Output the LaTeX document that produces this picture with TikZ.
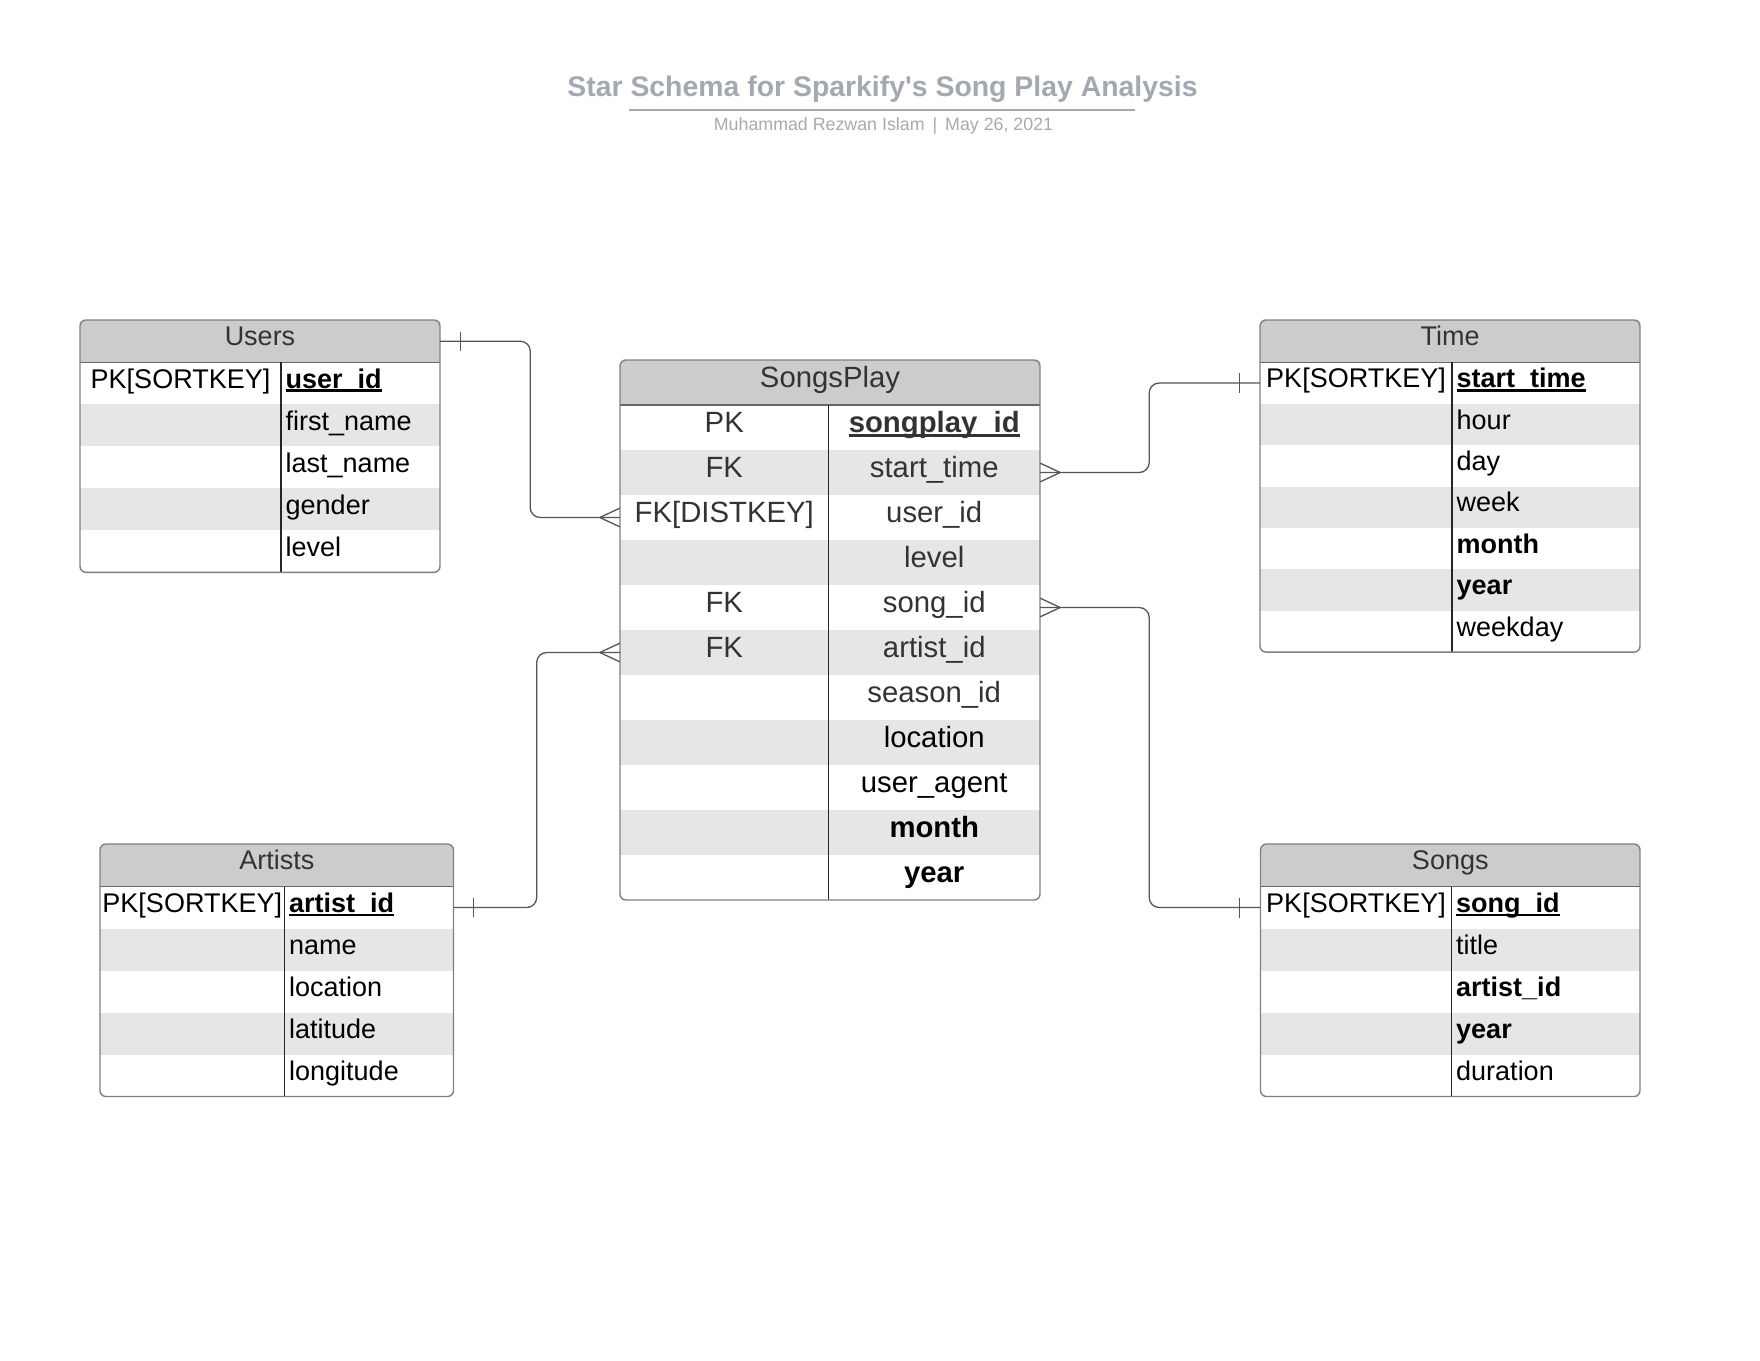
\documentclass[tikz,border=0pt]{standalone}
\usepackage{fontspec}
\setmainfont{Liberation Sans}[Ligatures=TeXOff]
\definecolor{hdrfill}{HTML}{CCCCCC}
\definecolor{stripe}{HTML}{E6E6E6}
\definecolor{framec}{HTML}{808080}
\definecolor{titlegray}{HTML}{A3A8B1}
\definecolor{subgray}{HTML}{A6AAB3}
\definecolor{dk}{HTML}{333333}
\definecolor{connc}{HTML}{555555}
\newcommand{\ulb}[1]{\setbox0\hbox{\textbf{#1}}\rlap{\rule[-0.15em]{\wd0}{0.1em}}\box0}
\newcommand{\tframe}[8]{%
  \begin{scope}
    \clip[rounded corners=6pt] (#1,#2) rectangle (#3,#4);
    \fill[hdrfill] (#1,#2) rectangle (#3,#5);
    \foreach \k in {2,4,...,#8} {\fill[stripe] (#1,{#5+(\k-1)*#7}) rectangle (#3,{#5+\k*#7});}
  \end{scope}
  \draw[hdrline] (#1,#5) -- (#3,#5);
  \draw[divline] (#6,#5) -- (#6,#4);
  \draw[frameline] (#1,#2) rectangle (#3,#4);
}
\tikzset{
  frameline/.style={draw=framec, line width=1.4pt, rounded corners=6pt},
  divline/.style={draw=black!85, line width=1.2pt},
  hdrline/.style={draw=black!60, line width=1.2pt},
  rowbox/.style={inner sep=0pt, draw=none},
  dimtxt/.style={inner sep=0pt, text height=0.98em, text depth=0.04em, font=\fontsize{27}{31}\selectfont, text=black},
  dimhdr/.style={dimtxt, text=dk},
  facttxt/.style={inner sep=0pt, text height=0.98em, text depth=0.04em, font=\fontsize{29.3}{34}\selectfont, text=dk},
  conn/.style={draw=connc, line width=1.3pt, rounded corners=10pt},
  tickline/.style={draw=connc, line width=1.3pt},
}
\begin{document}
\begin{tikzpicture}[x=1pt,y=-1pt]
\useasboundingbox (0,0) rectangle (1760,1360);
\fill[white] (0,0) rectangle (1760,1360);

% title
\node[anchor=base, inner sep=0pt, font=\fontsize{28.4}{34}\selectfont\bfseries, text=titlegray] (title) at (882.5,96.5) {Star Schema for Sparkify's Song Play Analysis};
\draw[titlegray, line width=2pt] (629,109.5) -- (1135,109.5);
\node[anchor=base, inner sep=0pt, font=\fontsize{17.8}{21}\selectfont, text=subgray] (subtitle) at (883.5,130) {Muhammad Rezwan Islam\hspace{8pt}|\hspace{8pt}May 26, 2021};

% ---------------- Users
\tframe{80}{320}{440}{572.3}{362.3}{281}{42}{5}
\node[dimhdr, minimum width=360pt, minimum height=42.3pt] (users-h) at (260,341.15) {Users};
\node[dimtxt] (users-k1) at (180.5,383.3) {PK[SORTKEY]};
\foreach \i/\f in {1/{\ulb{user\_id}},2/{first\_name},3/{last\_name},4/{gender},5/{level}} {
  \node[rowbox, minimum width=360pt, minimum height=42pt] (users-r\i) at (260,{362.3+42*(\i-0.5)}) {};
  \node[dimtxt, anchor=west] (users-f\i) at (285.5,{362.3+42*(\i-0.5)}) {\f};
}

% ---------------- Time
\tframe{1260}{320}{1640}{652.1}{362.3}{1452}{41.4}{7}
\node[dimhdr, minimum width=380pt, minimum height=42.3pt] (time-h) at (1450,341.15) {Time};
\node[dimtxt] (time-k1) at (1356,383) {PK[SORTKEY]};
\foreach \i/\f in {1/{\ulb{start\_time}},2/{hour},3/{day},4/{week},5/{\textbf{month}},6/{\textbf{year}},7/{weekday}} {
  \node[rowbox, minimum width=380pt, minimum height=41.4pt] (time-r\i) at (1450,{362.3+41.4*(\i-0.5)}) {};
  \node[dimtxt, anchor=west] (time-f\i) at (1456.5,{362.3+41.4*(\i-0.5)}) {\f};
}

% ---------------- Artists
\tframe{100}{844}{453.5}{1096.5}{886.5}{284.5}{42}{5}
\node[dimhdr, minimum width=353.5pt, minimum height=42.5pt] (artists-h) at (276.75,865.25) {Artists};
\node[dimtxt] (artists-k1) at (192.25,907.5) {PK[SORTKEY]};
\foreach \i/\f in {1/{\ulb{artist\_id}},2/{name},3/{location},4/{latitude},5/{longitude}} {
  \node[rowbox, minimum width=353.5pt, minimum height=42pt] (artists-r\i) at (276.75,{886.5+42*(\i-0.5)}) {};
  \node[dimtxt, anchor=west] (artists-f\i) at (289,{886.5+42*(\i-0.5)}) {\f};
}

% ---------------- Songs
\tframe{1260.5}{844}{1640}{1096.5}{886.5}{1451.5}{42}{5}
\node[dimhdr, minimum width=379.5pt, minimum height=42.5pt] (songs-h) at (1450.25,865.25) {Songs};
\node[dimtxt] (songs-k1) at (1356,907.5) {PK[SORTKEY]};
\foreach \i/\f in {1/{\ulb{song\_id}},2/{title},3/{\textbf{artist\_id}},4/{\textbf{year}},5/{duration}} {
  \node[rowbox, minimum width=379.5pt, minimum height=42pt] (songs-r\i) at (1450.25,{886.5+42*(\i-0.5)}) {};
  \node[dimtxt, anchor=west] (songs-f\i) at (1456,{886.5+42*(\i-0.5)}) {\f};
}

% ---------------- SongsPlay
\tframe{620}{360}{1040}{900}{405}{828.5}{45}{11}
\node[facttxt, minimum width=420pt, minimum height=45pt] (sp-h) at (830,382.5) {SongsPlay};
\foreach \i/\f in {1/{\ulb{songplay\_id}},2/{start\_time},3/{user\_id},4/{level},5/{song\_id},6/{artist\_id},7/{season\_id},8/{\color{black}location},9/{\color{black}user\_agent},10/{\color{black}\textbf{month}},11/{\color{black}\textbf{year}}} {
  \node[rowbox, minimum width=420pt, minimum height=45pt] (sp-r\i) at (830,{405+45*(\i-0.5)}) {};
  \node[facttxt] (sp-f\i) at (934.25,{405+45*(\i-0.5)}) {\f};
}
\foreach \i/\k in {1/{PK},2/{FK},3/{FK[DISTKEY]},5/{FK},6/{FK}} {
  \node[facttxt] (sp-k\i) at (724.25,{405+45*(\i-0.5)}) {\k};
}

% ---------------- connectors
% Users -> SongsPlay.user_id
\draw[conn] (users-h.east) -- ++(90,0) |- (sp-r3.west);
\draw[tickline] ([xshift=20pt,yshift=9.5pt]users-h.east) -- ([xshift=20pt,yshift=-9.5pt]users-h.east);
\draw[tickline] ([xshift=-20pt]sp-r3.west) -- ([yshift=9.3pt]sp-r3.west)
                ([xshift=-20pt]sp-r3.west) -- ([yshift=-9.3pt]sp-r3.west);

% SongsPlay.start_time -> Time
\draw[conn] (sp-r2.east) -- ++(109,0) |- (time-r1.west);
\draw[tickline] ([xshift=20pt]sp-r2.east) -- ([yshift=9.3pt]sp-r2.east)
                ([xshift=20pt]sp-r2.east) -- ([yshift=-9.3pt]sp-r2.east);
\draw[tickline] ([xshift=-20pt,yshift=10pt]time-r1.west) -- ([xshift=-20pt,yshift=-10pt]time-r1.west);

% SongsPlay.song_id -> Songs
\draw[conn] (sp-r5.east) -- ++(109,0) |- (songs-r1.west);
\draw[tickline] ([xshift=20pt]sp-r5.east) -- ([yshift=9.3pt]sp-r5.east)
                ([xshift=20pt]sp-r5.east) -- ([yshift=-9.3pt]sp-r5.east);
\draw[tickline] ([xshift=-21pt,yshift=10pt]songs-r1.west) -- ([xshift=-21pt,yshift=-10pt]songs-r1.west);

% Artists -> SongsPlay.artist_id
\draw[conn] (artists-r1.east) -- ++(83,0) |- (sp-r6.west);
\draw[tickline] ([xshift=19.5pt,yshift=9.5pt]artists-r1.east) -- ([xshift=19.5pt,yshift=-9.5pt]artists-r1.east);
\draw[tickline] ([xshift=-20pt]sp-r6.west) -- ([yshift=9.3pt]sp-r6.west)
                ([xshift=-20pt]sp-r6.west) -- ([yshift=-9.3pt]sp-r6.west);
\end{tikzpicture}
\end{document}
